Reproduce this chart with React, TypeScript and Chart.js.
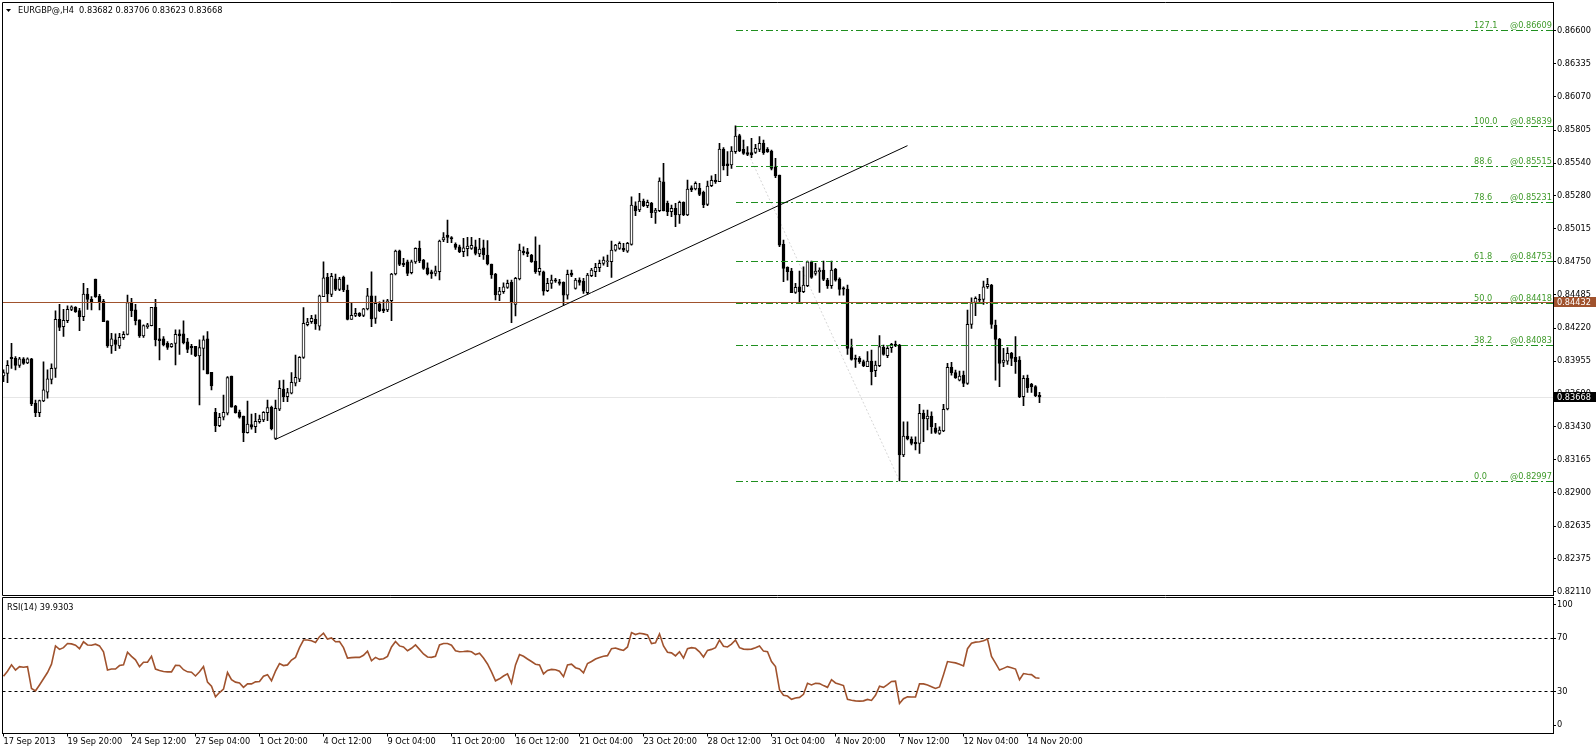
import React, { useEffect, useRef } from "react";
import { Chart, registerables } from "chart.js";

Chart.register(...registerables);

// ---------------- data ----------------
const symbolTitle = "EURGBP@,H4";
const titleQuote = "0.83682 0.83706 0.83623 0.83668";

const openPrices = [
  0.83837, 0.83858, 0.83986, 0.83978, 0.83922, 0.83973, 0.83941, 0.83973, 0.83618, 0.83543,
  0.83636, 0.83706, 0.8381, 0.83898, 0.8429, 0.84231, 0.84279, 0.8437, 0.84386, 0.84359,
  0.84311, 0.84493, 0.8445, 0.84613, 0.84477, 0.84437, 0.84277, 0.84077, 0.84125, 0.84077,
  0.84143, 0.8417, 0.84423, 0.84365, 0.84285, 0.84157, 0.84231, 0.84239, 0.84386, 0.84133,
  0.84133, 0.84098, 0.84071, 0.84098, 0.84173, 0.84173, 0.84109, 0.84074, 0.84074, 0.83997,
  0.84058, 0.84133, 0.83866, 0.83546, 0.83439, 0.83506, 0.83538, 0.83836, 0.83596, 0.83548,
  0.83516, 0.83383, 0.83447, 0.83431, 0.83471, 0.83484, 0.83543, 0.83585, 0.83337, 0.8357,
  0.83732, 0.83671, 0.83698, 0.83778, 0.83812, 0.83986, 0.84247, 0.84271, 0.8429, 0.84236,
  0.84471, 0.84626, 0.8449, 0.84615, 0.8453, 0.84626, 0.84525, 0.8429, 0.84322, 0.84338,
  0.84322, 0.84373, 0.84479, 0.84298, 0.84413, 0.84373, 0.84365, 0.84439, 0.84653, 0.84839,
  0.84738, 0.84751, 0.84663, 0.84749, 0.84858, 0.84765, 0.84703, 0.84671, 0.84658, 0.84671,
  0.84925, 0.84965, 0.84944, 0.8489, 0.84871, 0.84831, 0.84855, 0.84858, 0.84871, 0.84813,
  0.84863, 0.84805, 0.84733, 0.84653, 0.84485, 0.84511, 0.84546, 0.84586, 0.8441, 0.84613,
  0.84837, 0.84831, 0.84804, 0.84756, 0.84671, 0.84671, 0.84519, 0.84578, 0.84607, 0.84591,
  0.84586, 0.84484, 0.8466, 0.84538, 0.84604, 0.84596, 0.84503, 0.84639, 0.84671, 0.84703,
  0.84738, 0.84751, 0.84751, 0.84844, 0.84858, 0.84858, 0.84836, 0.8489, 0.85199, 0.85165,
  0.85237, 0.85199, 0.85218, 0.85146, 0.85159, 0.85391, 0.85218, 0.85151, 0.85178, 0.85125,
  0.85226, 0.85125, 0.85343, 0.85333, 0.85338, 0.85306, 0.8521, 0.85359, 0.85405, 0.85391,
  0.85653, 0.85535, 0.85525, 0.85632, 0.8576, 0.8565, 0.85624, 0.85624, 0.85626, 0.8565,
  0.85698, 0.8565, 0.85637, 0.85511, 0.85445, 0.8489, 0.84706, 0.84676, 0.84506, 0.84551,
  0.84511, 0.84559, 0.84751, 0.84658, 0.84671, 0.84684, 0.84604, 0.84559, 0.8469, 0.84612,
  0.84543, 0.84532, 0.84063, 0.83977, 0.83977, 0.83951, 0.83911, 0.83956, 0.83879, 0.83919,
  0.84065, 0.83999, 0.84063, 0.84089, 0.84084, 0.83204, 0.83356, 0.83332, 0.83305, 0.83297,
  0.83537, 0.83492, 0.83516, 0.83422, 0.83377, 0.83396, 0.83572, 0.83905, 0.83863, 0.83804,
  0.83844, 0.83777, 0.8425, 0.84426, 0.84452, 0.8445, 0.84551, 0.84564, 0.84244, 0.84129,
  0.83945, 0.83956, 0.84017, 0.83985, 0.83964, 0.83671, 0.83817, 0.83769, 0.83751, 0.83682,
];

const highPrices = [
  0.83885, 0.83959, 0.84098, 0.83991, 0.83986, 0.83983, 0.83981, 0.83978, 0.83644, 0.83644,
  0.83949, 0.83885, 0.83933, 0.84357, 0.8441, 0.8437, 0.84397, 0.84397, 0.84392, 0.84378,
  0.84578, 0.84538, 0.84472, 0.84613, 0.8449, 0.8445, 0.84277, 0.84178, 0.84173, 0.84178,
  0.84191, 0.84485, 0.84458, 0.8441, 0.84285, 0.84245, 0.84258, 0.84386, 0.8445, 0.84218,
  0.84151, 0.84111, 0.84098, 0.84205, 0.84205, 0.84277, 0.84138, 0.8409, 0.84074, 0.84125,
  0.84157, 0.84191, 0.83866, 0.83578, 0.83538, 0.83684, 0.83831, 0.83836, 0.83602, 0.83564,
  0.83516, 0.83636, 0.83532, 0.83538, 0.83524, 0.83551, 0.83644, 0.83596, 0.83644, 0.83799,
  0.83804, 0.83738, 0.83863, 0.84004, 0.83991, 0.84383, 0.84298, 0.84322, 0.84325, 0.84485,
  0.84751, 0.84658, 0.84658, 0.84653, 0.84626, 0.84637, 0.84565, 0.84418, 0.84378, 0.84343,
  0.84378, 0.84538, 0.84671, 0.84477, 0.84431, 0.84445, 0.8445, 0.84658, 0.84845, 0.84845,
  0.84778, 0.84765, 0.84765, 0.84863, 0.84917, 0.8477, 0.84743, 0.84685, 0.84717, 0.84925,
  0.84984, 0.85085, 0.84952, 0.84903, 0.84885, 0.84938, 0.84946, 0.84946, 0.84925, 0.84938,
  0.84925, 0.8492, 0.84733, 0.84658, 0.84546, 0.84583, 0.84605, 0.84605, 0.84626, 0.84893,
  0.84871, 0.84858, 0.8481, 0.84951, 0.84885, 0.84676, 0.84618, 0.84644, 0.84618, 0.8461,
  0.84591, 0.84684, 0.84684, 0.84618, 0.84623, 0.84618, 0.84658, 0.84698, 0.84738, 0.84764,
  0.84791, 0.84804, 0.84916, 0.8489, 0.84911, 0.84898, 0.84906, 0.85271, 0.85231, 0.85298,
  0.85253, 0.85245, 0.85226, 0.85178, 0.85423, 0.85538, 0.85237, 0.85205, 0.85218, 0.85237,
  0.85231, 0.85405, 0.85359, 0.85391, 0.85378, 0.85317, 0.85397, 0.85439, 0.8545, 0.85698,
  0.85664, 0.85632, 0.85672, 0.85839, 0.8577, 0.85725, 0.85672, 0.85738, 0.8569, 0.85752,
  0.85725, 0.85664, 0.85645, 0.85578, 0.85445, 0.84925, 0.84711, 0.84698, 0.84578, 0.84676,
  0.84711, 0.84756, 0.84756, 0.84738, 0.84703, 0.84756, 0.84618, 0.84756, 0.84698, 0.84623,
  0.84551, 0.84564, 0.84132, 0.84004, 0.83991, 0.83964, 0.84031, 0.84044, 0.83956, 0.84159,
  0.84084, 0.84071, 0.84097, 0.84116, 0.84089, 0.8347, 0.8347, 0.8335, 0.8335, 0.83609,
  0.83564, 0.83564, 0.8355, 0.83457, 0.8343, 0.83609, 0.83937, 0.83945, 0.83884, 0.83876,
  0.83876, 0.84364, 0.84463, 0.84471, 0.8449, 0.84596, 0.84618, 0.8457, 0.84284, 0.84137,
  0.84057, 0.84063, 0.84025, 0.84151, 0.83991, 0.83839, 0.83844, 0.83777, 0.83759, 0.83706,
];

const lowPrices = [
  0.83791, 0.83783, 0.83898, 0.83885, 0.83906, 0.8393, 0.83935, 0.83599, 0.83511, 0.83511,
  0.83631, 0.83658, 0.83772, 0.83826, 0.84199, 0.84154, 0.84263, 0.84359, 0.84346, 0.84199,
  0.84279, 0.8437, 0.84365, 0.84466, 0.84365, 0.84271, 0.84066, 0.84018, 0.84039, 0.84058,
  0.8413, 0.84165, 0.84311, 0.84245, 0.84146, 0.84146, 0.84218, 0.84237, 0.84077, 0.83965,
  0.84077, 0.8405, 0.84066, 0.83925, 0.8401, 0.84093, 0.84023, 0.8401, 0.83991, 0.83604,
  0.83885, 0.83853, 0.83725, 0.83391, 0.83431, 0.83484, 0.83524, 0.83586, 0.83538, 0.83498,
  0.83311, 0.83378, 0.8341, 0.83383, 0.83458, 0.83471, 0.83479, 0.83404, 0.83329, 0.83559,
  0.83631, 0.83631, 0.83692, 0.83756, 0.83791, 0.83978, 0.84237, 0.84258, 0.8421, 0.84204,
  0.84471, 0.84423, 0.84471, 0.84519, 0.84519, 0.84511, 0.84285, 0.8429, 0.84311, 0.84311,
  0.84311, 0.84365, 0.84231, 0.84258, 0.84351, 0.84343, 0.84351, 0.84279, 0.84645, 0.84719,
  0.84711, 0.84639, 0.84653, 0.84738, 0.84743, 0.8469, 0.84645, 0.84618, 0.84637, 0.84605,
  0.84911, 0.84903, 0.84903, 0.8485, 0.84823, 0.84791, 0.84797, 0.8485, 0.84805, 0.84791,
  0.8477, 0.84725, 0.84618, 0.84445, 0.84439, 0.84498, 0.84538, 0.84263, 0.84317, 0.84605,
  0.84805, 0.84791, 0.84746, 0.84658, 0.84644, 0.84484, 0.84511, 0.84538, 0.84586, 0.84564,
  0.84404, 0.84452, 0.84631, 0.84532, 0.84564, 0.84498, 0.8449, 0.84631, 0.84631, 0.84671,
  0.84724, 0.84711, 0.84626, 0.84836, 0.8485, 0.84831, 0.84826, 0.84884, 0.85119, 0.85151,
  0.85191, 0.85183, 0.85103, 0.85058, 0.85151, 0.85157, 0.85119, 0.85111, 0.85031, 0.85058,
  0.85119, 0.85119, 0.85311, 0.85325, 0.85279, 0.85183, 0.85199, 0.85351, 0.85378, 0.85391,
  0.85485, 0.85439, 0.85498, 0.85618, 0.85632, 0.8561, 0.856, 0.85584, 0.85618, 0.85632,
  0.8561, 0.85626, 0.85485, 0.85423, 0.84871, 0.84591, 0.84604, 0.84503, 0.84498, 0.84431,
  0.84503, 0.84551, 0.84618, 0.84644, 0.84506, 0.84599, 0.84538, 0.84538, 0.84596, 0.84484,
  0.84484, 0.84009, 0.83964, 0.83905, 0.83937, 0.83911, 0.83911, 0.83764, 0.83831, 0.83911,
  0.84004, 0.83983, 0.84025, 0.84071, 0.82997, 0.8319, 0.83324, 0.83284, 0.83244, 0.83217,
  0.8331, 0.83404, 0.83377, 0.83377, 0.83369, 0.8339, 0.83564, 0.83844, 0.83817, 0.83796,
  0.83751, 0.83769, 0.84218, 0.84319, 0.84418, 0.8441, 0.84538, 0.84218, 0.83804, 0.83751,
  0.83911, 0.83929, 0.83919, 0.83857, 0.83663, 0.83599, 0.83705, 0.83705, 0.83671, 0.83623,
];

const closePrices = [
  0.83863, 0.83922, 0.83975, 0.83922, 0.83973, 0.83938, 0.83973, 0.83612, 0.83543, 0.83639,
  0.83725, 0.83813, 0.83898, 0.8429, 0.84226, 0.84282, 0.8437, 0.84389, 0.84351, 0.84311,
  0.84493, 0.8445, 0.84429, 0.84472, 0.84431, 0.84271, 0.84077, 0.84133, 0.8409, 0.84146,
  0.8417, 0.84423, 0.84359, 0.84279, 0.84157, 0.84239, 0.84245, 0.84386, 0.84125, 0.84119,
  0.84085, 0.84066, 0.84093, 0.8417, 0.84157, 0.84103, 0.8405, 0.84061, 0.83997, 0.84063,
  0.84125, 0.83853, 0.83757, 0.83439, 0.83506, 0.83546, 0.83823, 0.83586, 0.83543, 0.83506,
  0.83383, 0.83452, 0.83426, 0.83474, 0.83492, 0.83546, 0.83583, 0.83415, 0.83578, 0.83738,
  0.83671, 0.83703, 0.83786, 0.83826, 0.83986, 0.84258, 0.84268, 0.84298, 0.84253, 0.84479,
  0.84623, 0.84493, 0.84634, 0.8453, 0.84613, 0.84525, 0.8429, 0.84322, 0.84338, 0.84319,
  0.84373, 0.84479, 0.84293, 0.84418, 0.84359, 0.84359, 0.84439, 0.84653, 0.84837, 0.8473,
  0.84725, 0.84658, 0.84751, 0.84858, 0.84757, 0.84698, 0.84653, 0.84653, 0.84679, 0.84917,
  0.84944, 0.84946, 0.84933, 0.84866, 0.84831, 0.84863, 0.84877, 0.84882, 0.84818, 0.84853,
  0.84805, 0.84733, 0.84645, 0.84485, 0.84517, 0.84551, 0.84578, 0.84423, 0.84618, 0.84845,
  0.84823, 0.84815, 0.84751, 0.84671, 0.84698, 0.84516, 0.84578, 0.84604, 0.84596, 0.84578,
  0.84484, 0.8465, 0.84644, 0.84604, 0.84586, 0.84516, 0.84644, 0.84684, 0.84706, 0.84738,
  0.84764, 0.84759, 0.84844, 0.84884, 0.84898, 0.84844, 0.84898, 0.85205, 0.85157, 0.85237,
  0.85199, 0.85226, 0.85143, 0.85165, 0.85397, 0.85157, 0.85151, 0.85178, 0.85125, 0.85226,
  0.85125, 0.85333, 0.85325, 0.85378, 0.8529, 0.85205, 0.85357, 0.85402, 0.85391, 0.85653,
  0.85519, 0.85519, 0.85637, 0.85757, 0.85637, 0.85618, 0.8561, 0.85605, 0.85658, 0.85698,
  0.85624, 0.85632, 0.85498, 0.85437, 0.84884, 0.84698, 0.84671, 0.84503, 0.84546, 0.84511,
  0.84564, 0.84751, 0.84626, 0.84676, 0.84682, 0.8461, 0.84559, 0.84684, 0.84604, 0.8453,
  0.84532, 0.84057, 0.83969, 0.83969, 0.83951, 0.83919, 0.83956, 0.83871, 0.83924, 0.84071,
  0.84009, 0.84057, 0.84089, 0.84079, 0.83204, 0.83356, 0.83332, 0.83297, 0.83292, 0.83537,
  0.83492, 0.83516, 0.8343, 0.83385, 0.83404, 0.83569, 0.83905, 0.83863, 0.83823, 0.83836,
  0.83777, 0.8425, 0.84426, 0.84458, 0.84444, 0.84551, 0.8457, 0.8425, 0.84129, 0.83937,
  0.83964, 0.84017, 0.83977, 0.83951, 0.83671, 0.83817, 0.83743, 0.83751, 0.83679, 0.83668,
];

const rsiValues = [
  41.4, 45.2, 49.9, 46.0, 48.6, 48.1, 48.6, 32.3, 30.5, 34.9,
  39.5, 44.2, 50.4, 64.1, 61.5, 62.8, 65.9, 65.6, 64.6, 62.0,
  67.2, 64.8, 64.6, 65.4, 64.1, 59.7, 46.0, 46.8, 46.8, 49.4,
  49.9, 59.4, 56.3, 53.7, 48.6, 51.9, 51.9, 56.3, 46.8, 45.7,
  45.0, 44.7, 44.7, 49.6, 49.4, 46.3, 44.7, 44.4, 41.6, 44.7,
  48.6, 37.0, 33.9, 26.1, 29.2, 31.8, 44.2, 38.8, 37.0, 36.4,
  33.1, 35.7, 35.7, 37.2, 37.5, 41.4, 42.6, 38.0, 45.2, 50.9,
  49.4, 49.9, 53.5, 55.5, 62.8, 68.5, 68.5, 67.9, 66.6, 71.0,
  73.6, 69.2, 70.0, 67.2, 67.4, 62.8, 55.0, 55.3, 55.5, 55.5,
  57.1, 60.2, 53.0, 55.5, 54.0, 54.5, 56.3, 63.3, 67.4, 64.1,
  63.3, 60.5, 62.3, 64.8, 61.5, 58.1, 55.8, 55.5, 56.3, 64.8,
  65.9, 65.9, 64.6, 60.5, 59.7, 59.9, 60.2, 59.7, 57.6, 58.6,
  55.0, 50.6, 44.7, 38.0, 39.5, 41.6, 43.2, 36.2, 49.9, 57.6,
  56.3, 54.3, 52.4, 50.4, 49.9, 43.2, 45.7, 46.5, 46.3, 45.2,
  41.1, 49.9, 50.4, 47.8, 46.8, 43.9, 50.9, 52.4, 54.3, 55.5,
  56.3, 56.8, 62.0, 62.5, 61.5, 60.7, 63.3, 74.1, 72.6, 73.6,
  73.1, 72.3, 65.9, 66.4, 73.1, 64.1, 59.4, 58.9, 56.6, 59.7,
  55.0, 62.0, 62.8, 62.3, 59.7, 55.8, 60.7, 61.5, 62.8, 68.5,
  63.8, 63.3, 65.4, 68.5, 62.8, 61.7, 61.5, 61.7, 62.8, 64.1,
  60.2, 59.7, 52.4, 48.6, 31.3, 27.2, 26.6, 24.1, 25.1, 25.6,
  27.9, 36.2, 34.9, 36.2, 35.9, 34.4, 33.1, 38.8, 36.4, 35.4,
  34.4, 24.1, 23.5, 23.0, 22.8, 23.0, 24.1, 23.3, 27.2, 33.9,
  33.1, 35.2, 37.5, 37.7, 21.0, 24.6, 26.1, 25.9, 25.9, 35.7,
  35.7, 34.9, 33.6, 32.3, 33.4, 42.6, 52.4, 51.9, 51.4, 50.4,
  49.1, 62.0, 66.1, 66.9, 67.2, 67.9, 69.2, 56.3, 51.2, 46.0,
  47.3, 48.6, 47.8, 46.8, 38.8, 43.4, 42.9, 42.6, 40.3, 39.93,
];
const rsiTitle = "RSI(14) 39.9303";

const timeTickBars = [0, 16, 32, 48, 64, 80, 96, 112, 128, 144, 160, 176, 192, 208, 224, 240, 256];
const timeTickLabels = [
  "17 Sep 2013", "19 Sep 20:00", "24 Sep 12:00", "27 Sep 04:00", "1 Oct 20:00", "4 Oct 12:00",
  "9 Oct 04:00", "11 Oct 20:00", "16 Oct 12:00", "21 Oct 04:00", "23 Oct 20:00", "28 Oct 12:00",
  "31 Oct 04:00", "4 Nov 20:00", "7 Nov 12:00", "12 Nov 04:00", "14 Nov 20:00",
];

const priceTicks = [
  0.866, 0.86335, 0.8607, 0.85805, 0.8554, 0.8528, 0.85015, 0.8475, 0.84485,
  0.8422, 0.83955, 0.8369, 0.8343, 0.83165, 0.829, 0.82635, 0.82375, 0.8211,
];
const priceMin = 0.820796;
const priceMax = 0.868257;

const rsiTickValues = [95.0, 70, 30, 4.7];
const rsiTickLabels = ["100", "70", "30", "0"];
const rsiLevels = [70, 30];
const rsiMin = -1.42;
const rsiMax = 100.3;

const fibLevels = [127.1, 100.0, 88.6, 78.6, 61.8, 50.0, 38.2, 0.0];
const fibPrices = [0.86609, 0.85839, 0.85515, 0.85231, 0.84753, 0.84418, 0.84083, 0.82997];
const fibAnchorBars = [183, 224];
const fibAnchorPrices = [0.85839, 0.82997];

const horizontalLinePrice = 0.84432;
const bidPrice = 0.83668;

const trendBars = [68, 226];
const trendPrices = [0.83329, 0.8568];

// ---------------- styling ----------------
const FONT_FAMILY = '"DejaVu Sans", Verdana, sans-serif';
const FONT_SIZE = 8.2;
const FONT = `${FONT_SIZE}px ${FONT_FAMILY}`;
const SIENNA = "#a0522d";
const FIB_LINE = "#1f8f1f";
const FIB_TEXT = "#3f9a2a";
const X_MIN = -0.25;
const X_MAX = 387.375;
const AXIS_WIDTH = 43;

const barIndex = openPrices.map((_, i) => i);

const fitVertical = (width: number) => (s: any) => {
  s.width = width;
  s.paddingTop = 0;
  s.paddingBottom = 0;
};

const mainOverlay = {
  id: "mainOverlay",
  beforeDatasetsDraw(chart: any) {
    const { ctx, chartArea: a, scales } = chart;
    const x = scales.x;
    const y = scales.y;
    ctx.save();
    ctx.beginPath();
    ctx.rect(a.left, a.top, a.right - a.left, a.bottom - a.top);
    ctx.clip();
    const by = Math.round(y.getPixelForValue(bidPrice)) + 0.5;
    ctx.strokeStyle = "#e6e6e6";
    ctx.lineWidth = 1;
    ctx.beginPath();
    ctx.moveTo(a.left, by);
    ctx.lineTo(a.right, by);
    ctx.stroke();
    ctx.setLineDash([2, 2]);
    ctx.strokeStyle = "#d6d6d6";
    ctx.beginPath();
    ctx.moveTo(x.getPixelForValue(fibAnchorBars[0]), y.getPixelForValue(fibAnchorPrices[0]));
    ctx.lineTo(x.getPixelForValue(fibAnchorBars[1]), y.getPixelForValue(fibAnchorPrices[1]));
    ctx.stroke();
    ctx.restore();
  },
  afterDatasetsDraw(chart: any) {
    const { ctx, chartArea: a, scales } = chart;
    const x = scales.x;
    const y = scales.y;
    ctx.save();
    ctx.beginPath();
    ctx.rect(a.left, a.top, a.right - a.left, a.bottom - a.top);
    ctx.clip();
    const hy = Math.round(y.getPixelForValue(horizontalLinePrice)) + 0.5;
    ctx.strokeStyle = SIENNA;
    ctx.lineWidth = 1;
    ctx.beginPath();
    ctx.moveTo(a.left, hy);
    ctx.lineTo(a.right, hy);
    ctx.stroke();
    const fx = Math.round(x.getPixelForValue(fibAnchorBars[0]));
    ctx.strokeStyle = FIB_LINE;
    ctx.setLineDash([7, 3, 2, 3]);
    fibPrices.forEach((p) => {
      const fy = Math.round(y.getPixelForValue(p)) + 0.5;
      ctx.beginPath();
      ctx.moveTo(fx, fy);
      ctx.lineTo(a.right, fy);
      ctx.stroke();
    });
    ctx.setLineDash([]);
    ctx.strokeStyle = "#000";
    ctx.beginPath();
    ctx.moveTo(x.getPixelForValue(trendBars[0]), y.getPixelForValue(trendPrices[0]));
    ctx.lineTo(x.getPixelForValue(trendBars[1]), y.getPixelForValue(trendPrices[1]));
    ctx.stroke();
    ctx.restore();
  },
  afterDraw(chart: any) {
    const { ctx, chartArea: a, scales } = chart;
    const y = scales.y;
    ctx.save();
    ctx.strokeStyle = "#000";
    ctx.lineWidth = 1;
    ctx.beginPath();
    ctx.moveTo(a.left, a.bottom);
    ctx.lineTo(a.left, a.top);
    ctx.lineTo(a.right, a.top);
    ctx.moveTo(a.left, a.bottom);
    ctx.lineTo(a.right, a.bottom);
    ctx.stroke();
    ctx.fillStyle = "#000";
    ctx.beginPath();
    ctx.moveTo(6, 9);
    ctx.lineTo(11, 9);
    ctx.lineTo(8.5, 12);
    ctx.closePath();
    ctx.fill();
    ctx.font = FONT;
    ctx.textBaseline = "middle";
    ctx.textAlign = "left";
    ctx.fillText(`${symbolTitle}  ${titleQuote}`, 18, 11);
    ctx.fillStyle = FIB_TEXT;
    ctx.textBaseline = "alphabetic";
    fibPrices.forEach((p, i) => {
      const fy = Math.round(y.getPixelForValue(p)) + 0.5;
      ctx.textAlign = "left";
      ctx.fillText(fibLevels[i].toFixed(1), 1474, fy - 3);
      ctx.textAlign = "right";
      ctx.fillText("@" + p.toFixed(5), a.right - 1, fy - 3);
    });
    const boxes = [
      { price: horizontalLinePrice, bg: SIENNA },
      { price: bidPrice, bg: "#000" },
    ];
    boxes.forEach((b) => {
      const by = Math.round(y.getPixelForValue(b.price));
      ctx.fillStyle = b.bg;
      ctx.fillRect(a.right + 1, by - 5, 1596 - a.right - 1, 10);
      ctx.fillStyle = "#fff";
      ctx.textAlign = "left";
      ctx.textBaseline = "middle";
      ctx.fillText(b.price.toFixed(5), a.right + 4, by + 0.5);
    });
    ctx.restore();
  },
};

const rsiOverlay = {
  id: "rsiOverlay",
  beforeDatasetsDraw(chart: any) {
    const { ctx, chartArea: a, scales } = chart;
    const y = scales.y;
    ctx.save();
    ctx.strokeStyle = "#000";
    ctx.lineWidth = 1;
    ctx.setLineDash([3, 3]);
    rsiLevels.forEach((lv) => {
      const ly = Math.round(y.getPixelForValue(lv)) + 0.5;
      ctx.beginPath();
      ctx.moveTo(a.left, ly);
      ctx.lineTo(a.right, ly);
      ctx.stroke();
    });
    ctx.restore();
  },
  afterDraw(chart: any) {
    const { ctx, chartArea: a } = chart;
    ctx.save();
    ctx.strokeStyle = "#000";
    ctx.lineWidth = 1;
    ctx.beginPath();
    ctx.moveTo(a.left, a.bottom);
    ctx.lineTo(a.left, a.top);
    ctx.lineTo(a.right, a.top);
    ctx.stroke();
    ctx.fillStyle = "#000";
    ctx.font = FONT;
    ctx.textAlign = "left";
    ctx.textBaseline = "middle";
    ctx.fillText(rsiTitle, 7, a.top + 10);
    ctx.restore();
  },
};

export default function App() {
  const mainRef = useRef<HTMLCanvasElement>(null);
  const rsiRef = useRef<HTMLCanvasElement>(null);

  useEffect(() => {
    document.body.style.margin = "0";
    document.body.style.background = "#fff";
    const charts: Chart[] = [];

    const bodies = barIndex.map((i) => ({
      x: i,
      y: [Math.min(openPrices[i], closePrices[i]), Math.max(openPrices[i], closePrices[i])],
    }));
    const wicks = barIndex.map((i) => ({ x: i, y: [lowPrices[i], highPrices[i]] }));
    const bodyColors = barIndex.map((i) => (closePrices[i] >= openPrices[i] ? "#ffffff" : "#000000"));

    if (mainRef.current) {
      charts.push(
        new Chart(mainRef.current, {
          type: "bar",
          data: {
            datasets: [
              {
                label: "body",
                data: bodies as any,
                backgroundColor: bodyColors,
                borderColor: "#000",
                borderWidth: 1,
                borderSkipped: false,
                barThickness: 3,
                minBarLength: 1,
                grouped: false,
                order: 0,
              } as any,
              {
                label: "wick",
                data: wicks as any,
                backgroundColor: "#000",
                borderWidth: 0,
                barThickness: 1,
                grouped: false,
                order: 1,
              } as any,
            ],
          },
          options: {
            animation: false,
            responsive: false,
            maintainAspectRatio: false,
            devicePixelRatio: 1,
            layout: { padding: { left: 2.5, top: 2.5, right: 0, bottom: 1.5 } },
            plugins: { legend: { display: false }, tooltip: { enabled: false } },
            scales: {
              x: { type: "linear", min: X_MIN, max: X_MAX, display: false, offset: false },
              y: {
                type: "linear",
                position: "right",
                min: priceMin,
                max: priceMax,
                afterFit: fitVertical(AXIS_WIDTH),
                afterBuildTicks: (s: any) => {
                  s.ticks = priceTicks.map((v) => ({ value: v }));
                },
                ticks: {
                  autoSkip: false,
                  font: { family: FONT_FAMILY, size: FONT_SIZE },
                  color: "#000",
                  padding: 1,
                  callback: (v: any) => Number(v).toFixed(5),
                },
                grid: { drawOnChartArea: false, drawTicks: true, tickLength: 3, color: "#000" },
                border: { display: true, color: "#000" },
              },
            },
          } as any,
          plugins: [mainOverlay],
        })
      );
    }

    if (rsiRef.current) {
      charts.push(
        new Chart(rsiRef.current, {
          type: "line",
          data: {
            datasets: [
              {
                label: "RSI",
                data: rsiValues.map((v, i) => ({ x: i, y: v })),
                borderColor: SIENNA,
                borderWidth: 1.6,
                pointRadius: 0,
                tension: 0,
                fill: false,
              },
            ],
          },
          options: {
            animation: false,
            responsive: false,
            maintainAspectRatio: false,
            devicePixelRatio: 1,
            layout: { padding: { left: 2.5, top: 0.5, right: 0, bottom: 0 } },
            plugins: { legend: { display: false }, tooltip: { enabled: false } },
            scales: {
              x: {
                type: "linear",
                position: "bottom",
                min: X_MIN,
                max: X_MAX,
                offset: false,
                afterFit: (s: any) => {
                  s.height = 12.5;
                  s.paddingLeft = 0;
                  s.paddingRight = 0;
                },
                afterBuildTicks: (s: any) => {
                  s.ticks = timeTickBars.map((v) => ({ value: v }));
                },
                ticks: {
                  autoSkip: false,
                  maxRotation: 0,
                  minRotation: 0,
                  align: "start",
                  padding: 0,
                  font: { family: FONT_FAMILY, size: FONT_SIZE },
                  color: "#000",
                  callback: (_v: any, idx: number) => timeTickLabels[idx],
                },
                grid: { drawOnChartArea: false, drawTicks: true, tickLength: 3, color: "#000" },
                border: { display: true, color: "#000" },
              },
              y: {
                type: "linear",
                position: "right",
                min: rsiMin,
                max: rsiMax,
                afterFit: fitVertical(AXIS_WIDTH),
                afterBuildTicks: (s: any) => {
                  s.ticks = rsiTickValues.map((v) => ({ value: v }));
                },
                ticks: {
                  autoSkip: false,
                  font: { family: FONT_FAMILY, size: FONT_SIZE },
                  color: "#000",
                  padding: 1,
                  callback: (_v: any, idx: number) => rsiTickLabels[idx],
                },
                grid: { drawOnChartArea: false, drawTicks: true, tickLength: 3, color: "#000" },
                border: { display: true, color: "#000" },
              },
            },
          } as any,
          plugins: [rsiOverlay],
        })
      );
    }

    return () => {
      charts.forEach((c) => c.destroy());
    };
  }, []);

  return (
    <div style={{ position: "relative", width: 1596, height: 746, background: "#fff", overflow: "hidden" }}>
      <canvas ref={mainRef} width={1596} height={597} style={{ position: "absolute", left: 0, top: 0 }} />
      <canvas ref={rsiRef} width={1596} height={149} style={{ position: "absolute", left: 0, top: 597 }} />
    </div>
  );
}
